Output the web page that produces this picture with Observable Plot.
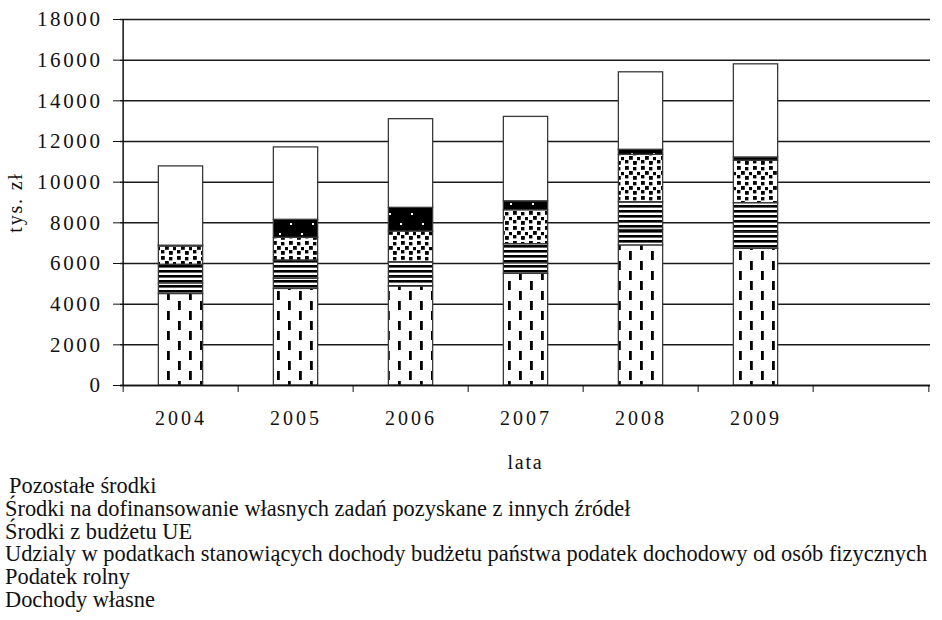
<!DOCTYPE html>
<html>
<head>
<meta charset="utf-8">
<script src="https://cdn.jsdelivr.net/npm/d3@7"></script>
<script src="https://cdn.jsdelivr.net/npm/@observablehq/plot@0.6"></script>
<style>
  body { margin: 0; background: #fff; }
  #legend { font-family: "Liberation Serif", "Times New Roman", serif; font-size: 22.4px; line-height: 22.8px; color: #111; padding-left: 5px; white-space: nowrap; }
  #legend div:first-child { padding-left: 4px; }
  #chart svg text { letter-spacing: 1.8px; }
  #chart svg g[aria-label="x-axis tick label"] text { letter-spacing: 3px; }
  #chart svg g[aria-label="y-axis tick label"] text { font-size: 21px; letter-spacing: 2.6px; }
</style>
</head>
<body>
<div id="chart"></div>
<div id="legend"></div>
<script>
const years = ["2004", "2005", "2006", "2007", "2008", "2009"];
const slots = [...years, ""];
const seriesNames = [
  "Dochody własne",
  "Podatek rolny",
  "Udziały w podatkach stanowiących dochody budżetu państwa podatek dochodowy od osób fizycznych",
  "Środki z budżetu UE",
  "Środki na dofinansowanie własnych zadań pozyskane z innych źródeł",
  "Pozostałe środki"
];
const legendLabels = [
  "Pozostałe środki",
  "Środki na dofinansowanie własnych zadań pozyskane z innych źródeł",
  "Środki z budżetu UE",
  "Udzialy w podatkach stanowiących dochody budżetu państwa podatek dochodowy od osób fizycznych",
  "Podatek rolny",
  "Dochody własne"
];
const dochodyWlasne = [4500, 4750, 4870, 5490, 6890, 6720];
const podatekRolny  = [520, 500, 430, 520, 760, 800];
const udzialy       = [920, 900, 765, 940, 1365, 1447];
const srodkiUE      = [896, 1114, 1509, 1670, 2332, 2087];
const dofinansowanie= [40, 886, 1164, 440, 246, 162];
const pozostale     = [3900, 3560, 4360, 4150, 3810, 4580];
const yTicks = [0, 2000, 4000, 6000, 8000, 10000, 12000, 14000, 16000, 18000];

const seriesValues = [dochodyWlasne, podatekRolny, udzialy, srodkiUE, dofinansowanie, pozostale];
const fills = ["url(#pDash)", "url(#pStripe)", "url(#pStripe)", "url(#pDots)", "url(#pBlack)", "#ffffff"];

const table = [];
years.forEach((yr, i) => {
  seriesNames.forEach((s, k) => table.push({year: yr, series: s, value: seriesValues[k][i]}));
});

const W = 942, mL = 120, mR = 12;
const step = (W - mL - mR) / slots.length;
const inset = (step - 45) / 2;
const font = '"Liberation Serif", "Times New Roman", serif';

const svg = Plot.plot({
  width: W,
  height: 475,
  marginLeft: mL,
  marginRight: mR,
  marginTop: 19,
  marginBottom: 90,
  style: {fontFamily: font, fontSize: "20px", color: "#111", background: "#fff"},
  x: {domain: slots, padding: 0, label: null},
  y: {domain: [0, 18000], label: null},
  color: {type: "ordinal", domain: seriesNames, range: fills},
  marks: [
    Plot.gridY(yTicks, {stroke: "#1a1a1a", strokeOpacity: 1, strokeWidth: 1.5}),
    Plot.barY(table, {x: "year", y: "value", fill: "series", stroke: "#3a3a3a", strokeWidth: 1.3, insetLeft: inset, insetRight: inset}),
    Plot.ruleY([0], {stroke: "#111", strokeWidth: 1.5}),
    Plot.ruleX([slots[0]], {dx: -step / 2, stroke: "#111", strokeWidth: 1.5}),
    Plot.axisY({ticks: yTicks, tickSize: 7, tickPadding: 11, tickFormat: d => String(d), fontSize: 21, label: null, stroke: "#111"}),
    Plot.axisX({ticks: slots, tickSize: 7, dx: -step / 2, tickFormat: () => "", label: null, stroke: "#111"}),
    Plot.axisX({ticks: [slots[slots.length - 1]], tickSize: 7, dx: step / 2, tickFormat: () => "", label: null, stroke: "#111"}),
    Plot.axisX({ticks: years, tickSize: 0, tickPadding: 25, fontSize: 20, label: null}),
    Plot.text(["lata"], {frameAnchor: "bottom", dy: 77, text: d => d, fontSize: 20, lineAnchor: "middle", textAnchor: "middle"}),
    Plot.text(["tys. zł"], {frameAnchor: "left", dx: -105, rotate: -90, text: d => d, fontSize: 20, lineAnchor: "middle", textAnchor: "middle"})
  ]
});

// pattern definitions
const defs = d3.select(svg).insert("defs", ":first-child");
const pd = defs.append("pattern").attr("id", "pDash").attr("patternUnits", "userSpaceOnUse").attr("width", 22).attr("height", 20);
pd.append("rect").attr("width", 22).attr("height", 20).attr("fill", "#fff");
pd.append("rect").attr("x", 2).attr("y", 1).attr("width", 2.8).attr("height", 9).attr("fill", "#000");
pd.append("rect").attr("x", 13).attr("y", 11).attr("width", 2.8).attr("height", 9).attr("fill", "#000");

const ps = defs.append("pattern").attr("id", "pStripe").attr("patternUnits", "userSpaceOnUse").attr("width", 10).attr("height", 5);
ps.append("rect").attr("width", 10).attr("height", 5).attr("fill", "#fff");
ps.append("rect").attr("y", 0).attr("width", 10).attr("height", 2.6).attr("fill", "#000");

const pdot = defs.append("pattern").attr("id", "pDots").attr("patternUnits", "userSpaceOnUse").attr("width", 16).attr("height", 15);
pdot.append("rect").attr("width", 16).attr("height", 15).attr("fill", "#fff");
[[1, 1, 3.8], [9, 2, 3.4], [5, 6, 3.8], [13, 7, 3.2], [1, 10, 3.4], [9, 11, 3.8]].forEach(([x, y, s]) =>
  pdot.append("rect").attr("x", x).attr("y", y).attr("width", s).attr("height", s).attr("fill", "#000"));

const pb = defs.append("pattern").attr("id", "pBlack").attr("patternUnits", "userSpaceOnUse").attr("width", 22).attr("height", 20);
pb.append("rect").attr("width", 22).attr("height", 20).attr("fill", "#000");
pb.append("rect").attr("x", 4).attr("y", 3).attr("width", 2).attr("height", 2).attr("fill", "#fff");
pb.append("rect").attr("x", 15).attr("y", 13).attr("width", 2).attr("height", 2).attr("fill", "#fff");

document.getElementById("chart").appendChild(svg);

const lg = d3.select("#legend");
legendLabels.forEach(t => lg.append("div").text(t));
</script>
</body>
</html>
